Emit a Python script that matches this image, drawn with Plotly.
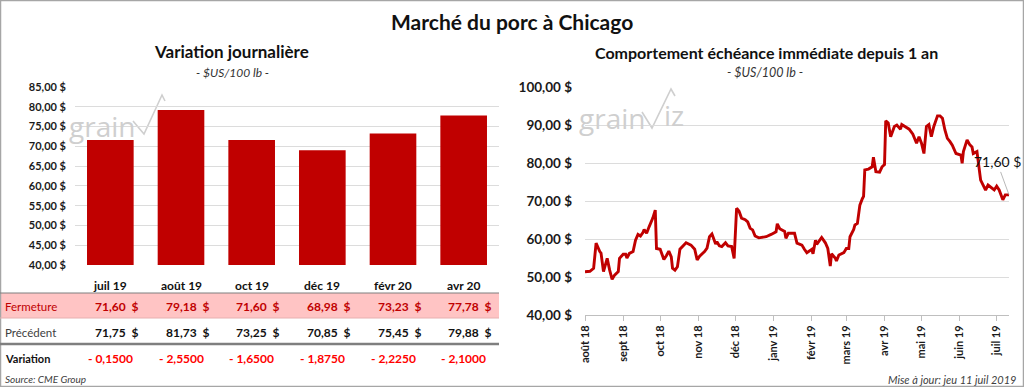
import plotly.graph_objects as go

# ---------------- data ----------------
contracts = ["juil 19", "août 19", "oct 19", "déc 19", "févr 20", "avr 20"]
closing = [71.60, 79.18, 71.60, 68.98, 73.23, 77.78]
previous = [71.75, 81.73, 73.25, 70.85, 75.45, 79.88]
variation = ["- 0,1500", "- 2,5500", "- 1,6500", "- 1,8750", "- 2,2250", "- 2,1000"]

left_ticks = [40, 45, 50, 55, 60, 65, 70, 75, 80, 85]
right_ticks = [40, 50, 60, 70, 80, 90, 100]

month_ticks = ["2018-08-01", "2018-09-01", "2018-10-01", "2018-11-01", "2018-12-01",
               "2019-01-01", "2019-02-01", "2019-03-01", "2019-04-01", "2019-05-01",
               "2019-06-01", "2019-07-01"]
month_labels = ["août 18", "sept 18", "oct 18", "nov 18", "déc 18", "janv 19",
                "févr 19", "mars 19", "avr 19", "mai 19", "juin 19", "juil 19"]

dates = [
    "2018-08-01", "2018-08-05", "2018-08-08", "2018-08-10", "2018-08-13", "2018-08-14",
    "2018-08-16", "2018-08-19", "2018-08-21", "2018-08-23", "2018-08-25", "2018-08-28",
    "2018-08-29", "2018-09-01", "2018-09-03", "2018-09-04", "2018-09-06", "2018-09-09",
    "2018-09-11", "2018-09-13", "2018-09-15", "2018-09-17", "2018-09-18", "2018-09-20",
    "2018-09-22", "2018-09-25", "2018-09-27", "2018-09-28", "2018-10-01", "2018-10-04",
    "2018-10-06", "2018-10-08", "2018-10-10", "2018-10-11", "2018-10-13", "2018-10-15",
    "2018-10-17", "2018-10-19", "2018-10-22", "2018-10-26", "2018-10-29", "2018-10-31",
    "2018-11-02", "2018-11-06", "2018-11-08", "2018-11-10", "2018-11-12", "2018-11-15",
    "2018-11-16", "2018-11-18", "2018-11-20", "2018-11-23", "2018-11-25", "2018-11-28",
    "2018-11-30", "2018-12-02", "2018-12-04", "2018-12-06", "2018-12-09", "2018-12-11",
    "2018-12-13", "2018-12-15", "2018-12-17", "2018-12-20", "2018-12-26", "2018-12-30",
    "2019-01-03", "2019-01-04", "2019-01-06", "2019-01-10", "2019-01-11", "2019-01-13",
    "2019-01-18", "2019-01-20", "2019-01-24", "2019-01-26", "2019-01-28", "2019-02-01",
    "2019-02-02", "2019-02-04", "2019-02-05", "2019-02-09", "2019-02-12", "2019-02-14",
    "2019-02-16", "2019-02-17", "2019-02-20", "2019-02-21", "2019-02-23", "2019-02-27",
    "2019-03-01", "2019-03-03", "2019-03-04", "2019-03-07", "2019-03-08", "2019-03-10",
    "2019-03-12", "2019-03-14", "2019-03-15", "2019-03-16", "2019-03-19", "2019-03-22",
    "2019-03-23", "2019-03-25", "2019-03-28", "2019-03-30", "2019-04-01", "2019-04-02",
    "2019-04-04", "2019-04-06", "2019-04-09", "2019-04-11", "2019-04-14", "2019-04-15",
    "2019-04-18", "2019-04-21", "2019-04-24", "2019-04-27", "2019-04-29", "2019-05-01",
    "2019-05-03", "2019-05-05", "2019-05-07", "2019-05-09", "2019-05-11", "2019-05-14",
    "2019-05-16", "2019-05-18", "2019-05-20", "2019-05-22", "2019-05-24", "2019-05-26",
    "2019-05-29", "2019-06-02", "2019-06-03", "2019-06-04", "2019-06-07", "2019-06-09",
    "2019-06-11", "2019-06-12", "2019-06-15", "2019-06-16", "2019-06-18", "2019-06-20",
    "2019-06-22", "2019-06-24", "2019-06-27", "2019-06-29", "2019-07-01", "2019-07-03",
    "2019-07-06", "2019-07-08", "2019-07-11",
]
prices = [
    51.4, 51.5, 52.3, 58.9, 56.7, 56.3,
    51.4, 54.9, 51.8, 49.4, 50.5, 51.4,
    54.9, 56.0, 56.0, 55.0, 56.2, 56.7,
    59.7, 61.2, 60.8, 61.7, 62.5, 61.5,
    63.2, 65.5, 67.6, 57.5, 57.3, 54.6,
    55.6, 56.8, 55.3, 52.3, 51.8, 52.7,
    57.3, 58.0, 59.0, 58.4, 57.3, 54.5,
    55.5, 56.7, 57.6, 60.6, 61.3, 58.7,
    59.3, 58.2, 58.0, 59.0, 58.2, 58.0,
    54.9, 68.1, 67.3, 65.5, 65.1, 64.5,
    62.8, 62.4, 60.8, 60.3, 60.6, 61.2,
    61.9, 64.0, 62.7, 62.0, 60.2, 61.5,
    61.5, 58.9, 58.4, 57.3, 56.4, 57.3,
    56.1, 59.7, 58.6, 60.4, 59.0, 57.5,
    52.9, 56.1, 55.0, 54.2, 55.8, 56.4,
    57.5, 57.5, 60.6, 62.5, 63.7, 64.1,
    68.9, 70.6, 71.2, 78.2, 78.4, 79.0,
    81.5, 77.7, 77.6, 79.0, 79.6, 91.1,
    90.5, 86.9, 89.6, 90.0, 88.9, 90.1,
    89.6, 88.9, 87.6, 85.2, 86.9, 85.2,
    82.5, 89.6, 90.1, 86.9, 89.6, 92.4,
    92.4, 91.8, 88.7, 86.5, 85.7, 84.7,
    82.5, 82.1, 79.9, 83.0, 86.1, 84.9,
    84.2, 82.5, 83.0, 80.3, 75.5, 74.2,
    72.9, 74.2, 73.4, 72.9, 73.9, 72.9,
    70.3, 71.6, 71.6,
]

# ---------------- helpers ----------------
W, H = 1024, 387
RED = "#c00000"
FONT = "Lato"


def px(x):
    return x / W


def py(y):
    return 1 - y / H


def money(v):
    return f"{v:.2f}".replace(".", ",") + " $"


fig = go.Figure()

fig.add_trace(go.Bar(
    x=contracts, y=closing, marker=dict(color=RED, line=dict(width=0)),
    xaxis="x", yaxis="y", hoverinfo="skip",
))
fig.add_trace(go.Scatter(
    x=dates, y=prices, mode="lines", line=dict(color=RED, width=2.9),
    xaxis="x2", yaxis="y2", hoverinfo="skip",
))

tickfont = dict(family=FONT, size=11, color="#1a1a1a", weight="bold")
tickfont_r = dict(family=FONT, size=13.5, color="#1a1a1a", weight="bold")

fig.update_layout(
    width=W, height=H,
    margin=dict(l=0, r=0, t=0, b=0, pad=0, autoexpand=False),
    paper_bgcolor="white", plot_bgcolor="white",
    showlegend=False,
    bargap=0.34,
    font=dict(family=FONT, color="#1a1a1a"),
    xaxis=dict(domain=[px(75), px(499)], anchor="y", type="category", automargin=False,
               showticklabels=False, showgrid=False, zeroline=False,
               showline=False, ticks=""),
    yaxis=dict(domain=[py(265), py(87)], anchor="x", range=[40, 85], automargin=False,
               tickvals=left_ticks, ticktext=[money(v) for v in left_ticks],
               showgrid=True, gridcolor="#dcdcdc", gridwidth=1,
               zeroline=False, showline=False, ticks="",
               ticklabelstandoff=8, tickfont=tickfont),
    xaxis2=dict(domain=[px(585), px(1009)], anchor="y2", type="date", automargin=False,
                range=["2018-08-01", "2019-07-11"],
                tickvals=month_ticks, ticktext=month_labels, tickangle=-90,
                ticks="outside", ticklen=5, tickcolor="#bfbfbf",
                showline=True, linecolor="#bfbfbf", linewidth=1,
                showgrid=False, zeroline=False, tickfont=tickfont),
    yaxis2=dict(domain=[py(315), py(87)], anchor="x2", range=[40, 100], automargin=False,
                tickvals=right_ticks, ticktext=[money(v) for v in right_ticks],
                showgrid=True, gridcolor="#dcdcdc", gridwidth=1,
                zeroline=False, showline=False, ticks="",
                ticklabelstandoff=12, tickfont=tickfont_r),
)

shapes = []
annotations = []

# outer border
shapes.append(dict(type="rect", xref="paper", yref="paper", x0=px(0.5), x1=px(1023.5),
                   y0=py(386.5), y1=py(0.5), line=dict(color="#a6a6a6", width=1.5),
                   fillcolor="rgba(0,0,0,0)", layer="above"))
# table: pink row and lines
shapes.append(dict(type="rect", xref="paper", yref="paper", x0=0, x1=px(499),
                   y0=py(318), y1=py(293), fillcolor="#ffc4c4",
                   line=dict(width=0), layer="below"))
shapes.append(dict(type="line", xref="paper", yref="paper", x0=0, x1=px(499),
                   y0=py(293), y1=py(293), line=dict(color="#7f7f7f", width=1)))
shapes.append(dict(type="line", xref="paper", yref="paper", x0=0, x1=px(499),
                   y0=py(318), y1=py(318), line=dict(color="#e6b0b0", width=1)))
shapes.append(dict(type="line", xref="paper", yref="paper", x0=0, x1=px(499),
                   y0=py(344), y1=py(344), line=dict(color="#7f7f7f", width=2.5)))

# watermark check marks
wm = "#cfcfcf"
shapes.append(dict(type="path", xref="paper", yref="paper", layer="below",
                   path=f"M {px(133)} {py(121)} L {px(144)} {py(134)} L {px(162)} {py(95)} L {px(165)} {py(101)}",
                   line=dict(color=wm, width=1.6)))
shapes.append(dict(type="path", xref="paper", yref="paper", layer="below",
                   path=f"M {px(642)} {py(112)} L {px(652)} {py(128)} L {px(671)} {py(89)} L {px(675)} {py(96)}",
                   line=dict(color=wm, width=1.6)))
annotations.append(dict(text="grain", xref="paper", yref="paper", x=px(102), y=py(126),
                        showarrow=False, font=dict(family="Open Sans", size=28, color=wm),
                        xanchor="center", yanchor="middle"))
annotations.append(dict(text="grain", xref="paper", yref="paper", x=px(612), y=py(118),
                        showarrow=False, font=dict(family="Open Sans", size=28, color=wm),
                        xanchor="center", yanchor="middle"))
annotations.append(dict(text="iz", xref="paper", yref="paper", x=px(674), y=py(115),
                        showarrow=False, font=dict(family="Open Sans", size=28, color=wm),
                        xanchor="center", yanchor="middle"))

# titles
annotations.append(dict(text="<b>Marché du porc à Chicago</b>", xref="paper", yref="paper",
                        x=0.5, y=py(22), showarrow=False, xanchor="center",
                        font=dict(family=FONT, size=21, color="#111111"), yanchor="middle"))
annotations.append(dict(text="<b>Variation journalière</b>", xref="paper", yref="paper",
                        x=px(231), y=py(52), showarrow=False, xanchor="center",
                        font=dict(family=FONT, size=17, color="#111111"), yanchor="middle"))
annotations.append(dict(text="<i>- $US/100 lb -</i>", xref="paper", yref="paper",
                        x=px(232), y=py(73), showarrow=False, xanchor="center",
                        font=dict(family=FONT, size=12, color="#333333"), yanchor="middle"))
annotations.append(dict(text="<b>Comportement échéance immédiate depuis 1 an</b>", xref="paper",
                        yref="paper", x=px(766), y=py(53), showarrow=False, xanchor="center",
                        font=dict(family=FONT, size=16, color="#111111"), yanchor="middle"))
annotations.append(dict(text="<i>- $US/100 lb -</i>", xref="paper", yref="paper",
                        x=px(765), y=py(73), showarrow=False, xanchor="center",
                        font=dict(family=FONT, size=12.5, color="#333333"), yanchor="middle"))

# table content
rows_y = {"head": 285, "close": 306, "prev": 332, "var": 358}
for i, c in enumerate(contracts):
    annotations.append(dict(text=f"<b>{c}</b>", xref="x", yref="paper", x=c, y=py(rows_y["head"]),
                            showarrow=False, font=dict(family=FONT, size=12, color="#111111"),
                            xanchor="center", yanchor="middle"))
    annotations.append(dict(text=f"<b>{money(closing[i]).replace(' $', '  $')}</b>", xref="x",
                            yref="paper", x=c, y=py(rows_y["close"]), showarrow=False,
                            xshift=6, xanchor="center",
                            font=dict(family=FONT, size=12, color=RED), yanchor="middle"))
    annotations.append(dict(text=f"<b>{money(previous[i]).replace(' $', '  $')}</b>", xref="x",
                            yref="paper", x=c, y=py(rows_y["prev"]), showarrow=False,
                            xshift=6, xanchor="center",
                            font=dict(family=FONT, size=12, color="#111111"), yanchor="middle"))
    annotations.append(dict(text=f"<b>{variation[i]}</b>", xref="x", yref="paper", x=c,
                            y=py(rows_y["var"]), showarrow=False, xanchor="center",
                            font=dict(family=FONT, size=12, color="#ff0000"), yanchor="middle"))

annotations.append(dict(text="Fermeture", xref="paper", yref="paper", x=px(3), y=py(rows_y["close"]),
                        xanchor="left", yanchor="middle", showarrow=False,
                        font=dict(family=FONT, size=11.5, color=RED)))
annotations.append(dict(text="Précédent", xref="paper", yref="paper", x=px(3), y=py(rows_y["prev"]),
                        xanchor="left", yanchor="middle", showarrow=False,
                        font=dict(family=FONT, size=11.5, color="#404040")))
annotations.append(dict(text="<b>Variation</b>", xref="paper", yref="paper", x=px(3),
                        y=py(rows_y["var"]), xanchor="left", yanchor="middle", showarrow=False,
                        font=dict(family=FONT, size=11, color="#111111")))

# footers
annotations.append(dict(text="<i>Source: CME Group</i>", xref="paper", yref="paper", x=px(3),
                        y=py(379), xanchor="left", yanchor="middle", showarrow=False,
                        font=dict(family=FONT, size=10, color="#404040")))
annotations.append(dict(text="<i>Mise à jour: jeu 11 juil 2019</i>", xref="paper", yref="paper",
                        x=px(1018), y=py(379), xanchor="right", yanchor="middle", showarrow=False,
                        font=dict(family=FONT, size=11, color="#404040")))

# last value label
annotations.append(dict(text=money(prices[-1]), xref="x2", yref="y2", x=dates[-1], y=prices[-1],
                        showarrow=True, arrowhead=0, arrowwidth=0.8, arrowcolor="#a6a6a6",
                        ax=-12, ay=-33, font=dict(family=FONT, size=14, color="#111111")))

fig.update_layout(shapes=shapes, annotations=annotations)
fig.write_html(
    "out.html",
    config={"displayModeBar": False, "responsive": False},
    post_script="document.body.style.margin='0';document.body.style.overflow='hidden';",
)
